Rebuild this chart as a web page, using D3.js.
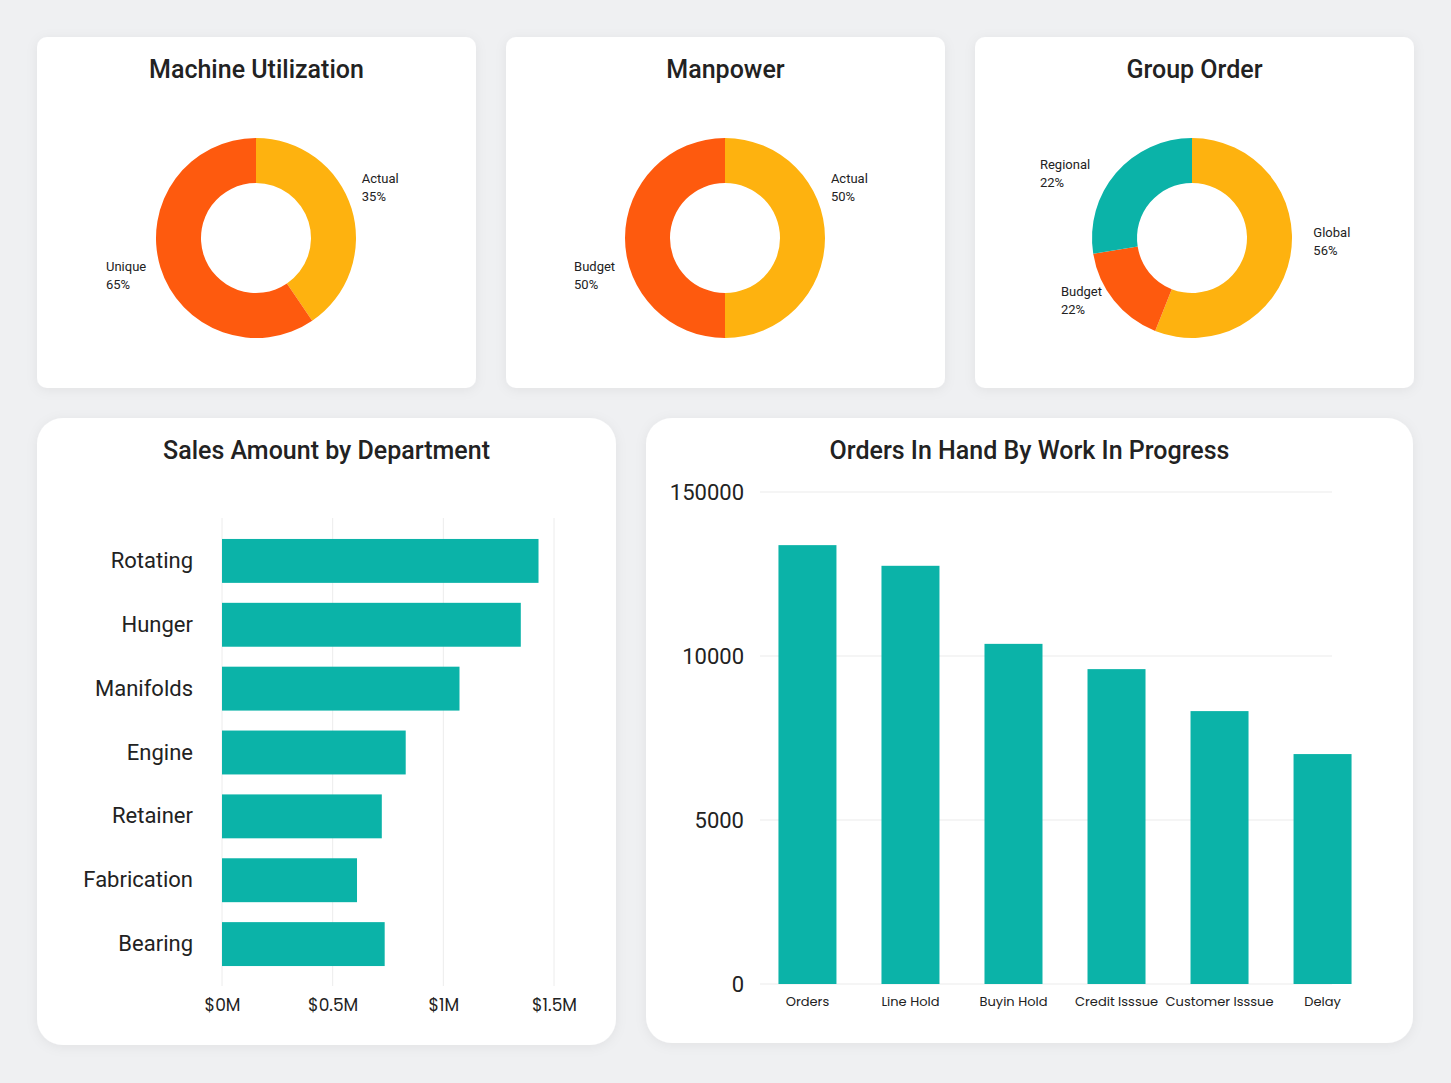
<!DOCTYPE html>
<html>
<head>
<meta charset="utf-8">
<script src="https://cdn.jsdelivr.net/npm/d3@7/dist/d3.min.js"></script>
<style>
  html, body { margin: 0; padding: 0; background: #eff0f2; }
  svg { display: block; }
</style>
</head>
<body>
<svg id="chart" width="1451" height="1083"></svg>
<script>
// ---------- DATA ----------
const machineLabels = ["Actual", "Unique"];
const machineValues = [40.5, 59.5];
const machinePct = ["35%", "65%"];

const manpowerLabels = ["Actual", "Budget"];
const manpowerValues = [50, 50];
const manpowerPct = ["50%", "50%"];

const groupLabels = ["Global", "Budget", "Regional"];
const groupValues = [56, 16.5, 27.5];
const groupPct = ["56%", "22%", "22%"];

const deptCategories = ["Rotating", "Hunger", "Manifolds", "Engine", "Retainer", "Fabrication", "Bearing"];
const deptValues = [1.43, 1.35, 1.073, 0.83, 0.722, 0.61, 0.735]; // $M
const deptTicks = [0, 0.5, 1, 1.5];
const deptTickLabels = ["$0M", "$0.5M", "$1M", "$1.5M"];

const orderCategories = ["Orders", "Line Hold", "Buyin Hold", "Credit Isssue", "Customer Isssue", "Delay"];
const orderValues = [13380, 12750, 10370, 9600, 8320, 7010];
const orderTicks = [0, 5000, 10000, 15000];
const orderTickLabels = ["0", "5000", "10000", "150000"];

// ---------- STYLE ----------
const YELLOW = "#feb20f", ORANGE = "#fe5a0e", TEAL = "#0bb3a8";
const TITLE_FONT = "Roboto, 'Noto Sans', sans-serif";
const GEO_FONT = "Poppins, Inter, Lato, sans-serif";

const svg = d3.select("#chart");
const defs = svg.append("defs");
const f = defs.append("filter").attr("id", "shadow").attr("x", "-10%").attr("y", "-10%").attr("width", "120%").attr("height", "120%");
f.append("feDropShadow").attr("dx", 0).attr("dy", 2).attr("stdDeviation", 6).attr("flood-color", "#000").attr("flood-opacity", 0.06);

function card(x, y, w, h, r, title, ty) {
  svg.append("rect").attr("x", x).attr("y", y).attr("width", w).attr("height", h)
    .attr("rx", r).attr("fill", "#fff").attr("filter", "url(#shadow)");
  svg.append("text").attr("x", x + w / 2).attr("y", ty).attr("text-anchor", "middle")
    .attr("font-family", TITLE_FONT).attr("font-weight", 500).attr("font-size", 25)
    .attr("fill", "#222").text(title);
}

// ---------- DONUTS ----------
function donut(cx, cy, labels, values, pct, colors, title, cardX, labelRotateDeg, labelRx, labelRy) {
  card(cardX, 37, 439, 351, 10, title, 78);
  const g = svg.append("g").attr("transform", `translate(${cx},${cy})`);
  const pie = d3.pie().sort(null).value(d => d.v);
  const data = pie(labels.map((l, i) => ({ l, v: values[i], p: pct[i], c: colors[i] })));
  const arc = d3.arc().innerRadius(55).outerRadius(100);
  g.selectAll("path").data(data).join("path").attr("d", arc).attr("fill", d => d.data.c);
  const rot = labelRotateDeg * Math.PI / 180;
  data.forEach(d => {
    const a = (d.startAngle + d.endAngle) / 2 + rot;
    const x = Math.sin(a) * labelRx, y = -Math.cos(a) * labelRy;
    const t = g.append("text").attr("font-family", TITLE_FONT).attr("font-size", 13).attr("fill", "#222");
    const t1 = t.append("tspan").attr("y", y - 11).text(d.data.l);
    const t2 = t.append("tspan").attr("y", y + 7).text(d.data.p);
    const w = Math.max(t1.node().getComputedTextLength(), t2.node().getComputedTextLength());
    const left = x >= 0 ? x - 8 : x - w + 4;
    t1.attr("x", left); t2.attr("x", left);
  });
}
donut(256, 238, machineLabels, machineValues, machinePct, [YELLOW, ORANGE], "Machine Utilization", 37, -4, 122, 122);
donut(725, 238, manpowerLabels, manpowerValues, manpowerPct, [YELLOW, ORANGE], "Manpower", 506, -21, 122, 122);
donut(1192, 238, groupLabels, groupValues, groupPct, [YELLOW, ORANGE, TEAL], "Group Order", 975, -5, 130, 100);

// ---------- SALES BY DEPARTMENT ----------
card(37, 418, 579, 627, 26, "Sales Amount by Department", 459);
{
  const x = d3.scaleLinear().domain([0, 1.5]).range([222, 554]);
  const y = d3.scaleBand().domain(deptCategories).range([529, 976]).paddingInner(0.3125).paddingOuter(0.156);
  const g = svg.append("g");
  g.selectAll("line.grid").data(deptTicks).join("line").attr("class", "grid")
    .attr("x1", d => x(d)).attr("x2", d => x(d)).attr("y1", 518).attr("y2", 986)
    .attr("stroke", "#ececec").attr("stroke-width", 1);
  g.selectAll("rect").data(deptCategories).join("rect")
    .attr("x", x(0)).attr("y", d => y(d)).attr("height", y.bandwidth())
    .attr("width", (d, i) => x(deptValues[i]) - x(0)).attr("fill", TEAL);
  const ax = g.append("g").attr("transform", "translate(0,986)")
    .call(d3.axisBottom(x).tickValues(deptTicks).tickSize(0).tickFormat((d, i) => deptTickLabels[i]));
  ax.select(".domain").remove();
  ax.selectAll("text").attr("dy", 0).attr("y", 25).attr("font-family", GEO_FONT).attr("font-size", 17).attr("fill", "#222");
  const ay = g.append("g").attr("transform", "translate(193,0)")
    .call(d3.axisLeft(y).tickSize(0).tickPadding(0));
  ay.select(".domain").remove();
  ay.selectAll("text").attr("font-family", TITLE_FONT).attr("font-size", 22).attr("fill", "#222");
}

// ---------- ORDERS IN HAND ----------
card(646, 418, 767, 625, 26, "Orders In Hand By Work In Progress", 459);
{
  const x = d3.scaleBand().domain(orderCategories).range([756, 1374]).paddingInner(0.437).paddingOuter(0.218);
  const y = d3.scaleLinear().domain([0, 15000]).range([984, 492]);
  const g = svg.append("g");
  g.selectAll("line.grid").data(orderTicks).join("line").attr("class", "grid")
    .attr("x1", 760).attr("x2", 1332).attr("y1", d => y(d)).attr("y2", d => y(d))
    .attr("stroke", "#ebebeb").attr("stroke-width", 1.2);
  g.selectAll("rect").data(orderCategories).join("rect")
    .attr("x", d => x(d)).attr("width", x.bandwidth())
    .attr("y", (d, i) => y(orderValues[i])).attr("height", (d, i) => y(0) - y(orderValues[i]))
    .attr("fill", TEAL);
  const ay = g.append("g").attr("transform", "translate(744,0)")
    .call(d3.axisLeft(y).tickValues(orderTicks).tickSize(0).tickPadding(0).tickFormat((d, i) => orderTickLabels[i]));
  ay.select(".domain").remove();
  ay.selectAll("text").attr("font-family", TITLE_FONT).attr("font-size", 22).attr("fill", "#222");
  const ax = g.append("g").attr("transform", "translate(0,984)")
    .call(d3.axisBottom(x).tickSize(0));
  ax.select(".domain").remove();
  ax.selectAll("text").attr("dy", 0).attr("y", 22).attr("font-family", GEO_FONT).attr("font-size", 13).attr("fill", "#222");
}
</script>
</body>
</html>
